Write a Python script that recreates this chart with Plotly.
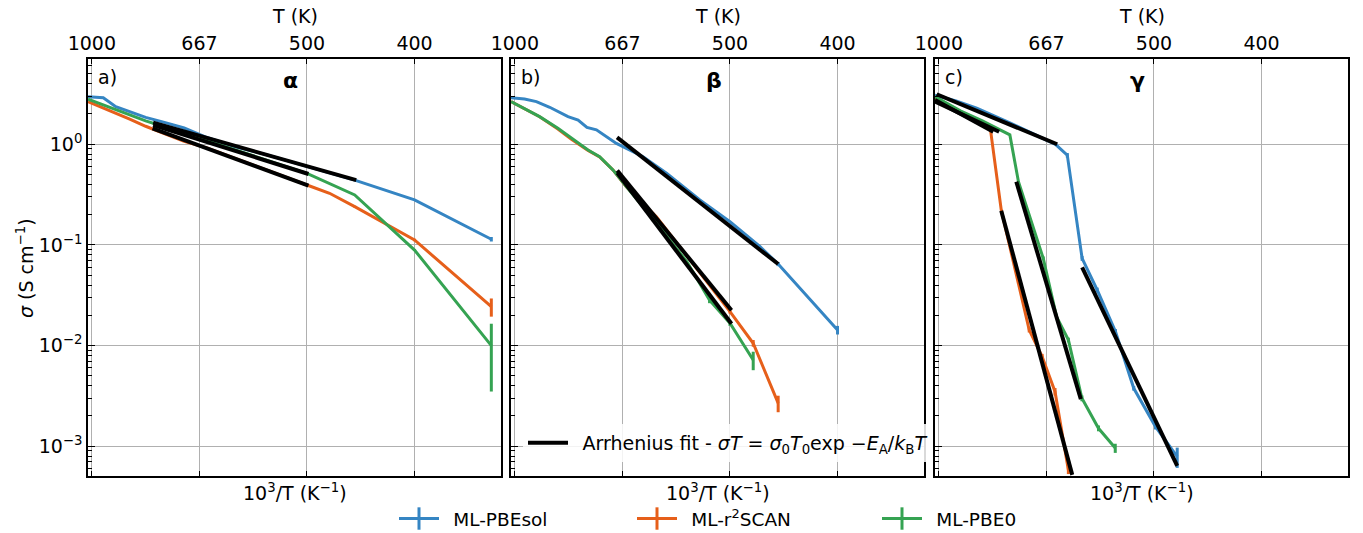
import plotly.graph_objects as go

# ---------------- data (x = 10^3/T in K^-1, sigma in S/cm) ----------------
T_ticks = [1000, 667, 500, 400]
T_tick_pos = [1.0, 1.5, 2.0, 2.5]
series_names = ["ML-PBEsol", "ML-r<sup>2</sup>SCAN", "ML-PBE0"]
colors = ["#3585c3", "#e65f1a", "#35a352"]

# panel a (alpha)
a_pbesol_x = [0.982, 1.053, 1.111, 1.176, 1.25, 1.333, 1.429, 1.538, 1.667, 1.818, 2.0, 2.222, 2.5, 2.857]
a_pbesol_y = [2.97, 2.90, 2.36, 2.11, 1.85, 1.66, 1.45, 1.16, 0.946, 0.78, 0.605, 0.44, 0.28, 0.114]
a_pbesol_e = [0, 0, 0, 0, 0, 0, 0, 0, 0, 0, 0, 0, 0.004, 0.006]
a_r2scan_x = [0.982, 1.053, 1.111, 1.176, 1.25, 1.333, 1.429, 1.538, 1.667, 1.818, 2.0, 2.105, 2.222, 2.5, 2.857]
a_r2scan_y = [2.65, 2.30, 2.05, 1.78, 1.51, 1.29, 1.07, 0.916, 0.73, 0.55, 0.394, 0.326, 0.24, 0.112, 0.0244]
a_r2scan_e = [0, 0, 0, 0, 0, 0, 0, 0, 0, 0, 0, 0, 0.005, 0.003, 0.005]
a_pbe0_x = [0.982, 1.053, 1.111, 1.176, 1.25, 1.333, 1.429, 1.538, 1.667, 1.818, 2.0, 2.222, 2.5, 2.857]
a_pbe0_y = [2.80, 2.46, 2.21, 1.95, 1.71, 1.50, 1.28, 1.08, 0.88, 0.69, 0.515, 0.314, 0.089, 0.010]
a_pbe0_e = [0, 0, 0, 0, 0, 0, 0, 0, 0, 0, 0, 0, 0.002, 0.0065]
a_fits = [([1.285, 2.229], [1.64, 0.44]),
          ([1.285, 2.007], [1.55, 0.507]),
          ([1.282, 2.007], [1.44, 0.388])]

# panel b (beta)
b_pbesol_x = [0.982, 1.045, 1.1, 1.162, 1.247, 1.294, 1.335, 1.379, 1.472, 1.503, 1.596, 1.705, 1.86, 2.0, 2.14, 2.224, 2.5]
b_pbesol_y = [2.90, 2.82, 2.65, 2.33, 1.88, 1.74, 1.47, 1.39, 1.02, 0.947, 0.753, 0.515, 0.28, 0.170, 0.096, 0.0646, 0.0143]
b_pbesol_e = [0, 0, 0, 0, 0, 0, 0, 0, 0, 0, 0, 0, 0, 0, 0, 0.003, 0.0014]
b_r2scan_x = [0.982, 1.115, 1.2, 1.263, 1.34, 1.394, 1.456, 1.518, 1.658, 1.82, 2.0, 2.108, 2.224]
b_r2scan_y = [2.65, 1.88, 1.42, 1.12, 0.87, 0.75, 0.556, 0.379, 0.191, 0.068, 0.0218, 0.01056, 0.00268]
b_r2scan_e = [0, 0, 0, 0, 0, 0, 0, 0, 0, 0, 0.001, 0.0008, 0.0005]
b_pbe0_x = [0.982, 1.115, 1.2, 1.263, 1.34, 1.394, 1.456, 1.518, 1.658, 1.8, 1.905, 2.0, 2.108]
b_pbe0_y = [2.65, 1.88, 1.44, 1.15, 0.878, 0.753, 0.556, 0.379, 0.165, 0.068, 0.0284, 0.0167, 0.0072]
b_pbe0_e = [0, 0, 0, 0, 0, 0, 0, 0, 0, 0, 0.002, 0.001, 0.0015]
b_fits = [([1.475, 2.224], [1.17, 0.0646]),
          ([1.476, 2.007], [0.55, 0.0225]),
          ([1.476, 2.007], [0.52, 0.0165])]

# panel c (gamma)
c_pbesol_x = [0.982, 1.08, 1.176, 1.333, 1.542, 1.597, 1.666, 1.736, 1.821, 1.906, 2.007, 2.108]
c_pbesol_y = [3.08, 2.70, 2.28, 1.62, 1.0, 0.78, 0.0735, 0.0357, 0.0138, 0.00377, 0.00157, 0.00079]
c_pbesol_e = [0, 0, 0, 0, 0, 0.04, 0.004, 0.002, 0.0008, 0.0002, 0.0001, 0.00018]
c_r2scan_x = [0.982, 1.12, 1.24, 1.29, 1.36, 1.42, 1.48, 1.54, 1.602]
c_r2scan_y = [2.86, 1.94, 1.39, 0.223, 0.05, 0.0143, 0.00778, 0.00349, 0.00058]
c_r2scan_e = [0, 0, 0, 0, 0, 0.0008, 0.0005, 0.0003, 0.00005]
c_pbe0_x = [0.982, 1.1, 1.2, 1.28, 1.33, 1.37, 1.485, 1.547, 1.602, 1.665, 1.742, 1.82]
c_pbe0_y = [2.97, 2.15, 1.72, 1.39, 1.24, 0.425, 0.0738, 0.0194, 0.0114, 0.0030, 0.00151, 0.00096]
c_pbe0_e = [0, 0, 0, 0, 0, 0, 0.003, 0.001, 0.0006, 0.0002, 0.0001, 0.0001]
c_fits = [([0.99, 1.55], [3.14, 1.0]), ([1.666, 2.108], [0.060, 0.00064]),
          ([0.982, 1.253], [2.75, 1.33]), ([1.29, 1.62], [0.219, 0.00052]),
          ([0.982, 1.28], [2.65, 1.33]), ([1.36, 1.66], [0.425, 0.00294])]

panel_labels = ["a)", "b)", "c)"]
phase_labels = ["α", "β", "γ"]
y_tickvals = [1e-3, 1e-2, 1e-1, 1]
y_ticktext = ["10<sup>−3</sup>", "10<sup>−2</sup>", "10<sup>−1</sup>", "10<sup>0</sup>"]
fit_label = ("\u2002Arrhenius fit - <i>σT</i> = <i>σ</i><sub>0</sub><i>T</i><sub>0</sub>exp "
             "−<i>E</i><sub>A</sub>/<i>k</i><sub>B</sub><i>T</i>")

# ---------------- figure ----------------
W, H = 1363, 533
FONT = "DejaVu Sans"
panels_px = [(88, 501), (511, 924), (935, 1348)]
y_top_px, y_bot_px = 59.3, 476
ydom = [(H - y_bot_px) / H, (H - y_top_px) / H]
xrange_ = [0.982, 2.902]
yrange_ = [-3.295, 0.844]

minor_vals = [m * 10 ** e for e in range(-4, 1) for m in range(2, 10)]

fig = go.Figure()

panels = [
    [(a_pbesol_x, a_pbesol_y, a_pbesol_e), (a_r2scan_x, a_r2scan_y, a_r2scan_e), (a_pbe0_x, a_pbe0_y, a_pbe0_e)],
    [(b_pbesol_x, b_pbesol_y, b_pbesol_e), (b_r2scan_x, b_r2scan_y, b_r2scan_e), (b_pbe0_x, b_pbe0_y, b_pbe0_e)],
    [(c_pbesol_x, c_pbesol_y, c_pbesol_e), (c_r2scan_x, c_r2scan_y, c_r2scan_e), (c_pbe0_x, c_pbe0_y, c_pbe0_e)],
]
fits = [a_fits, b_fits, c_fits]

for p in range(3):
    xa = "x" if p == 0 else f"x{p+1}"
    ya = "y" if p == 0 else f"y{p+1}"
    for s, (xs, ys, es) in enumerate(panels[p]):
        fig.add_trace(go.Scatter(
            x=xs, y=ys, mode="lines", xaxis=xa, yaxis=ya,
            line=dict(color=colors[s], width=3),
            error_y=dict(type="data", array=es, visible=True, color=colors[s], thickness=3, width=0),
            showlegend=False, hoverinfo="skip"))
    for k, (fx, fy) in enumerate(fits[p]):
        fig.add_trace(go.Scatter(
            x=fx, y=fy, mode="lines", xaxis=xa, yaxis=ya,
            line=dict(color="black", width=4),
            showlegend=(p == 1 and k == 0), legend="legend2", name=fit_label,
            hoverinfo="skip"))

# legend dummy entries (errorbar-like "+" symbol), one legend box per entry
legend_keys = ["legend", "legend3", "legend4"]
legend_x_px = [394, 632, 877]
for s in range(3):
    fig.add_trace(go.Scatter(
        x=[None], y=[None], mode="lines+markers", name="\u2002" + series_names[s],
        line=dict(color=colors[s], width=3),
        marker=dict(symbol="line-ns", size=18, line=dict(color=colors[s], width=3)),
        showlegend=True, legend=legend_keys[s]))

layout = dict(
    width=W, height=H, margin=dict(l=0, r=0, t=0, b=0, autoexpand=False),
    paper_bgcolor="white", plot_bgcolor="white",
    font=dict(family=FONT, size=19, color="black"),
    legend2=dict(x=523 / W, xanchor="left", y=(H - 443) / H, yanchor="middle",
                 font=dict(size=19), bgcolor="rgba(255,255,255,0.85)", itemwidth=40),
    annotations=[],
)
for s in range(3):
    layout[legend_keys[s]] = dict(x=legend_x_px[s] / W, xanchor="left", y=(H - 519) / H, yanchor="middle",
                                  font=dict(size=18.5), bgcolor="rgba(0,0,0,0)", itemwidth=40)

for p in range(3):
    x0, x1 = panels_px[p]
    xkey = "xaxis" if p == 0 else f"xaxis{p+1}"
    ykey = "yaxis" if p == 0 else f"yaxis{p+1}"
    ya = "y" if p == 0 else f"y{p+1}"
    xa = "x" if p == 0 else f"x{p+1}"
    layout[xkey] = dict(
        domain=[x0 / W, x1 / W], range=xrange_, anchor=ya, side="top", automargin=False,
        tickmode="array", tickvals=T_tick_pos, ticktext=[str(t) for t in T_ticks],
        ticks="inside", ticklen=5, tickwidth=1.2, tickcolor="black",
        showline=True, linecolor="black", linewidth=1.5, mirror="allticks",
        showgrid=True, gridcolor="#b0b0b0", gridwidth=1, zeroline=False,
        tickfont=dict(size=19), fixedrange=True)
    layout[ykey] = dict(
        domain=ydom, range=yrange_, type="log", anchor=xa, automargin=False,
        tickmode="array", tickvals=y_tickvals, ticktext=y_ticktext,
        showticklabels=(p == 0),
        ticks="inside", ticklen=7, tickwidth=1.2, tickcolor="black",
        minor=dict(ticks="inside", ticklen=4, tickwidth=1, tickcolor="black",
                   tickmode="array", tickvals=minor_vals, showgrid=False),
        showline=True, linecolor="black", linewidth=1.5, mirror=True,
        showgrid=True, gridcolor="#b0b0b0", gridwidth=1, zeroline=False,
        tickfont=dict(size=19), fixedrange=True)
    cx = (x0 + x1) / 2 / W
    layout["annotations"] += [
        dict(text="T (K)", x=cx, y=(H - 16) / H, xref="paper", yref="paper",
             showarrow=False, font=dict(size=19), xanchor="center", yanchor="middle"),
        dict(text="10<sup>3</sup>/T (K<sup>−1</sup>)", x=cx, y=(H - 492) / H, xref="paper", yref="paper",
             showarrow=False, font=dict(size=19), xanchor="center", yanchor="middle"),
        dict(text=panel_labels[p], x=(x0 + 8) / W, y=(H - 77) / H, xref="paper", yref="paper",
             showarrow=False, font=dict(size=19), xanchor="left", yanchor="middle"),
        dict(text="<b>" + phase_labels[p] + "</b>", x=cx - 4 / W, y=(H - 80) / H, xref="paper", yref="paper",
             showarrow=False, font=dict(size=22), xanchor="center", yanchor="middle"),
    ]

layout["annotations"].append(
    dict(text="<i>σ</i> (S cm<sup>−1</sup>)", x=25 / W, y=(H - 268) / H, xref="paper", yref="paper",
         showarrow=False, textangle=-90, font=dict(size=19), xanchor="center", yanchor="middle"))

fig.update_layout(**layout)
fig.write_html("out.html")
